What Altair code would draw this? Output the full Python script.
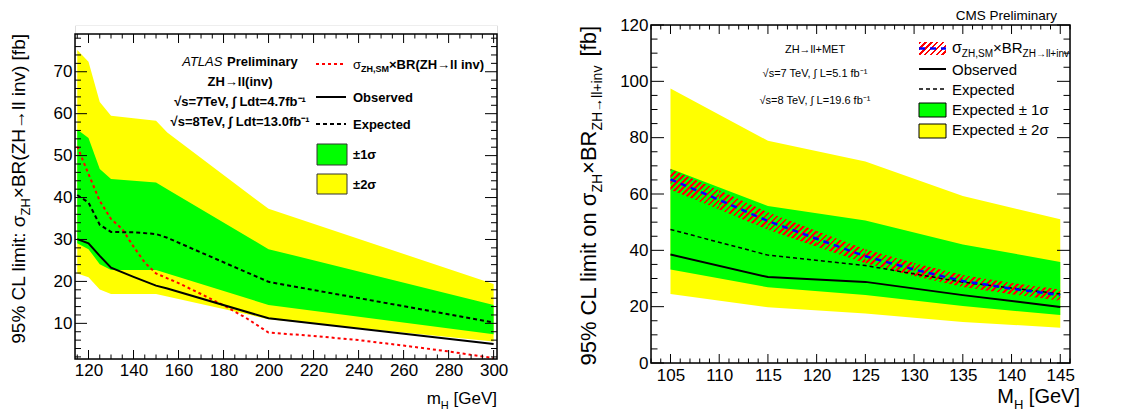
import altair as alt
import pandas as pd

FONT = "Liberation Sans"
GREEN = "#00ff00"
YELLOW = "#ffff00"

# ---------------- Left panel (ATLAS) data ----------------
L_mass = [115, 120, 125, 130, 140, 150, 155, 200, 300]
L_y2hi = [75.2, 72.4, 62.8, 59.5, 58.9, 58.3, 55.5, 37.3, 19.4]
L_y1hi = [56.2, 54.2, 46.8, 44.4, 44.0, 43.6, 42.0, 27.7, 14.4]
L_exp = [40.6, 38.8, 33.5, 31.8, 31.7, 31.3, 30.4, 19.9, 10.2]
L_obs = [30.1, 29.1, 26.1, 23.3, 21.1, 19.0, 18.3, 11.2, 5.1]
L_y1lo = [29.1, 27.7, 24.1, 22.7, 22.7, 22.7, 21.9, 14.4, 7.4]
L_y2lo = [21.9, 21.0, 18.1, 17.0, 17.0, 17.0, 16.4, 11.0, 5.7]
L_sm_mass = [115, 120, 125, 130, 135, 140, 145, 150, 160, 170, 180, 190, 200, 220, 240, 260, 280, 300]
L_sm = [52.2, 45.6, 39.2, 34.9, 32.5, 28.3, 24.5, 21.9, 19.6, 17.0, 14.3, 11.3, 7.8, 7.0, 6.0, 4.7, 3.3, 1.7]
L_xmajor = [120, 140, 160, 180, 200, 220, 240, 260, 280, 300]
L_xminor = [115, 125, 130, 135, 145, 150, 155, 165, 170, 175, 185, 190, 195, 205, 210, 215, 225, 230, 235,
            245, 250, 255, 265, 270, 275, 285, 290, 295]
L_ymajor = [10, 20, 30, 40, 50, 60, 70]
L_yminor = [2, 4, 6, 8, 12, 14, 16, 18, 22, 24, 26, 28, 32, 34, 36, 38, 42, 44, 46, 48, 52, 54, 56, 58,
            62, 64, 66, 68, 72, 74, 76, 78]

# ---------------- Right panel (CMS) data ----------------
R_mass = [105, 115, 125, 135, 145]
R_y2hi = [97.5, 78.9, 71.5, 59.3, 51.0]
R_y1hi = [69.0, 55.7, 50.6, 42.1, 35.9]
R_exp = [47.4, 38.3, 34.6, 28.7, 24.5]
R_obs = [38.5, 30.5, 28.8, 24.1, 19.9]
R_y1lo = [33.2, 26.9, 24.1, 20.2, 17.0]
R_y2lo = [24.5, 19.8, 17.6, 14.6, 12.5]
R_sm_mass = [105, 110, 115, 120, 125, 130, 135, 140, 145]
R_sm = [65.2, 57.9, 50.4, 44.1, 37.9, 33.2, 29.1, 26.4, 24.1]
R_sm_hi = [68.9, 61.3, 53.5, 46.9, 40.4, 35.5, 31.2, 28.4, 26.1]
R_sm_lo = [61.5, 54.5, 47.3, 41.3, 35.4, 30.9, 27.0, 24.4, 22.1]
R_xmajor = [105, 110, 115, 120, 125, 130, 135, 140, 145]
R_xminor = [103, 104, 106, 107, 108, 109, 111, 112, 113, 114, 116, 117, 118, 119, 121, 122, 123, 124,
            126, 127, 128, 129, 131, 132, 133, 134, 136, 137, 138, 139, 141, 142, 143, 144, 146]
R_ymajor = [0, 20, 40, 60, 80, 100, 120]
R_yminor = [5, 10, 15, 25, 30, 35, 45, 50, 55, 65, 70, 75, 85, 90, 95, 105, 110, 115]

ONE = pd.DataFrame({"k": [0]})

# approximate Arial / Liberation Sans advance widths (per 1000 em)
REG = {' ': 278, '%': 889, 'C': 722, 'L': 556, 'l': 222, 'i': 222, 'm': 833, 't': 278, ':': 278,
       'σ': 617, 'Z': 611, 'H': 722, '×': 584, 'B': 667, 'R': 722, '(': 333, ')': 333, '→': 1000,
       'n': 556, 'v': 500, '[': 278, ']': 278, 'f': 278, 'b': 556, 'o': 556, '+': 584, 'e': 556,
       'G': 778, 'V': 667, 'M': 833, 'S': 667, ',': 278, 's': 500, 'A': 667, 'T': 611}
BOLD = dict(REG)
BOLD.update({'B': 722, 'l': 278, 'i': 278, 'n': 611, 'v': 556, 'm': 889, 'r': 389, 'e': 556,
             'P': 667, 'y': 556, 'a': 556, 'b': 611, 't': 333, 'L': 611})


def tw(s, size, bold=False):
    tab = BOLD if bold else REG
    return sum(tab.get(c, 556) for c in s) * size / 1000.0


def text(s, x, y, size, weight="normal", align="left", baseline="alphabetic", angle=0,
         style="normal", color="black"):
    kw = dict(text=s, font=FONT, fontSize=size, fontWeight=weight, fontStyle=style,
              align=align, baseline=baseline, color=color)
    if angle:
        kw["angle"] = angle
    return alt.Chart(ONE).mark_text(**kw).encode(x=alt.value(x), y=alt.value(y))


def hseq(pieces, x, y):
    out = []
    cur = x
    for s, size, weight, dy in pieces:
        out.append(text(s, cur, y + dy, size, weight))
        cur += tw(s, size, weight == "bold")
    return out


def hseq_right(pieces, xr, y):
    out = []
    cur = xr
    for s, size, weight, dy in reversed(pieces):
        out.append(text(s, cur, y + dy, size, weight, align="right"))
        cur -= tw(s, size, weight == "bold")
    return out


def vseq(pieces, x, ytop):
    """rotated (reading upward) run ending at ytop; pieces: (text, size, dx, gap_after)"""
    out = []
    cur = ytop
    for s, size, dx, gap in reversed(pieces):
        cur += gap
        out.append(text(s, x + dx, cur, size, align="right", angle=270))
        cur += tw(s, size)
    return out


def hatch(w, h, period=4.4, frac=0.42):
    """diagonal red hatching as a hard-stop linear gradient over the mark's bounding box"""
    a, b = 1.0, h / w
    s = (a + b) / (a * a + b * b) * 1.02
    x2, y2 = s * a, s * b
    g = ((x2 / w) ** 2 + (y2 / h) ** 2) ** 0.5 / (x2 * x2 + y2 * y2)
    n = max(1, round((1.0 / g) / period))
    red, clear = "#ff0000", "rgba(255,0,0,0)"
    stops = []
    for k in range(n):
        o0, o1, o2 = k / n, (k + frac) / n, (k + 1) / n
        stops += [{"offset": o0, "color": red}, {"offset": o1, "color": red},
                  {"offset": o1, "color": clear}, {"offset": o2, "color": clear}]
    return {"gradient": "linear", "x1": 0, "y1": 0, "x2": x2, "y2": y2, "stops": stops}


def tick_layers(xs, ys, xax, yax, W, top, bottom, xmaj, xmin, ymaj, ymin, lx, ly):
    out = []
    for vals, ln in ((xmaj, lx[0]), (xmin, lx[1])):
        d = pd.DataFrame({"t": vals})
        X = alt.X("t:Q", scale=xs, axis=xax)
        out.append(alt.Chart(d).mark_rule(color="black", strokeWidth=1).encode(
            x=X, y=alt.value(bottom), y2=alt.value(bottom - ln)))
        out.append(alt.Chart(d).mark_rule(color="black", strokeWidth=1).encode(
            x=X, y=alt.value(top), y2=alt.value(top + ln)))
    for vals, ln in ((ymaj, ly[0]), (ymin, ly[1])):
        d = pd.DataFrame({"t": vals})
        Y = alt.Y("t:Q", scale=ys, axis=yax)
        out.append(alt.Chart(d).mark_rule(color="black", strokeWidth=1).encode(
            y=Y, x=alt.value(0), x2=alt.value(ln)))
        out.append(alt.Chart(d).mark_rule(color="black", strokeWidth=1).encode(
            y=Y, x=alt.value(W), x2=alt.value(W - ln)))
    return out


def frame(W, top, bottom):
    return alt.Chart(ONE).mark_rect(fillOpacity=0, stroke="black", strokeWidth=1.5).encode(
        x=alt.value(0), x2=alt.value(W), y=alt.value(top), y2=alt.value(bottom))


def spacer(x1, x2, y):
    return alt.Chart(ONE).mark_rule(color="white", strokeWidth=1).encode(
        x=alt.value(x1), x2=alt.value(x2), y=alt.value(y))


def axis(vals, pad):
    return alt.Axis(values=vals, ticks=False, tickSize=0, domain=False, grid=False, title=None,
                    labelFont=FONT, labelFontSize=17, labelColor="black", labelPadding=pad,
                    labelFlush=False, labelOverlap=False, format="d")


# ================= LEFT PANEL =================
WL, HL, OY = 422, 334, 9          # view is 334 tall; the framed plot starts 9 px lower
xsL = alt.Scale(domain=[114, 301.5], nice=False, zero=False)
ysL = alt.Scale(domain=[1.5, 79], nice=False, zero=False, range=[HL, OY])
axLx = axis(L_xmajor, 3)
axLy = axis(L_ymajor, 3)
dfL = pd.DataFrame({"m": L_mass, "y2hi": L_y2hi, "y1hi": L_y1hi, "exp": L_exp, "obs": L_obs,
                    "y1lo": L_y1lo, "y2lo": L_y2lo})
dfLsm = pd.DataFrame({"m": L_sm_mass, "sm": L_sm})
XL = alt.X("m:Q", scale=xsL, axis=axLx)

left_layers = [
    alt.Chart(dfL).mark_area(color=YELLOW).encode(XL, alt.Y("y2lo:Q", scale=ysL, axis=axLy), alt.Y2("y2hi:Q")),
    alt.Chart(dfL).mark_area(color=GREEN).encode(XL, alt.Y("y1lo:Q", scale=ysL, axis=axLy), alt.Y2("y1hi:Q")),
    alt.Chart(dfLsm).mark_line(color="#ff0000", strokeWidth=2, strokeDash=[3, 3]).encode(
        XL, alt.Y("sm:Q", scale=ysL, axis=axLy)),
    alt.Chart(dfL).mark_line(color="black", strokeWidth=2, strokeDash=[4, 3]).encode(
        XL, alt.Y("exp:Q", scale=ysL, axis=axLy)),
    alt.Chart(dfL).mark_line(color="black", strokeWidth=2).encode(XL, alt.Y("obs:Q", scale=ysL, axis=axLy)),
]
left_layers += tick_layers(xsL, ysL, axLx, axLy, WL, OY, HL, L_xmajor, L_xminor, L_ymajor, L_yminor,
                           (9, 4.5), (12, 6))
left_layers.append(frame(WL, OY, HL))
# inner labels
cx = 165
atl_w = tw("ATLAS", 13) + tw(" ", 13, True) + tw("Preliminary", 13, True)
x0 = cx - atl_w / 2
left_layers += [
    text("ATLAS", x0, OY + 31.5, 13, style="italic"),
    text("Preliminary", x0 + tw("ATLAS", 13) + tw(" ", 13, True), OY + 31.5, 13, weight="bold"),
    text("ZH→ll(inv)", cx, OY + 51.5, 13, weight="bold", align="center"),
    text("√s=7TeV, ∫ Ldt=4.7fb⁻¹", cx, OY + 71.5, 13, weight="bold", align="center"),
    text("√s=8TeV, ∫ Ldt=13.0fb⁻¹", cx, OY + 91.5, 13, weight="bold", align="center"),
]
# legend
lx0, lx1, ltx = 241, 271, 278
left_layers += [
    alt.Chart(ONE).mark_rule(color="#ff0000", strokeWidth=2, strokeDash=[3, 3]).encode(
        x=alt.value(lx0), x2=alt.value(lx1), y=alt.value(OY + 30)),
    alt.Chart(ONE).mark_rule(color="black", strokeWidth=2).encode(
        x=alt.value(lx0), x2=alt.value(lx1), y=alt.value(OY + 63)),
    alt.Chart(ONE).mark_rule(color="black", strokeWidth=2, strokeDash=[4, 3]).encode(
        x=alt.value(lx0), x2=alt.value(lx1), y=alt.value(OY + 90)),
    alt.Chart(ONE).mark_rect(fill=GREEN, stroke="#333333", strokeWidth=1).encode(
        x=alt.value(lx0 + 1), x2=alt.value(lx1 + 1), y=alt.value(OY + 110), y2=alt.value(OY + 131)),
    alt.Chart(ONE).mark_rect(fill=YELLOW, stroke="#333333", strokeWidth=1).encode(
        x=alt.value(lx0 + 1), x2=alt.value(lx1 + 1), y=alt.value(OY + 140), y2=alt.value(OY + 160)),
]
left_layers += hseq([("σ", 13, "normal", 0), ("ZH,SM", 9, "bold", 3.5), ("×BR(ZH→ll inv)", 13, "bold", 0)],
                    ltx, OY + 34.5)
left_layers += [
    text("Observed", ltx, OY + 67.5, 13, weight="bold"),
    text("Expected", ltx, OY + 94.5, 13, weight="bold"),
    text("±1σ", ltx, OY + 124.5, 13, weight="bold"),
    text("±2σ", ltx, OY + 154.5, 13, weight="bold"),
]
# axis titles
left_layers += vseq([("95% CL limit: σ", 19, 0, 0), ("ZH", 13, 5, 0), ("×BR(ZH→ll inv) [fb]", 19, 0, 0)],
                    -50.5, OY)
left_layers += hseq_right([("m", 17, "normal", 0), ("H", 11, "normal", 5), (" [GeV]", 17, "normal", 0)],
                          WL, HL + 45)
left_layers.append(spacer(-66, 440, 0))

left = alt.layer(*left_layers).properties(width=WL, height=HL)

# ================= RIGHT PANEL =================
WR, HR = 419, 338
RX0, RX1, RY1 = 103, 146, 120
xsR = alt.Scale(domain=[RX0, RX1], nice=False, zero=False)
ysR = alt.Scale(domain=[0, RY1], nice=False, zero=False)
axRx = axis(R_xmajor, 4)
axRy = axis(R_ymajor, 3)
dfR = pd.DataFrame({"m": R_mass, "y2hi": R_y2hi, "y1hi": R_y1hi, "exp": R_exp, "obs": R_obs,
                    "y1lo": R_y1lo, "y2lo": R_y2lo})
dfRsm = pd.DataFrame({"m": R_sm_mass, "sm": R_sm, "hi": R_sm_hi, "lo": R_sm_lo})
XR = alt.X("m:Q", scale=xsR, axis=axRx)

right_layers = [
    alt.Chart(dfR).mark_area(color=YELLOW).encode(XR, alt.Y("y2lo:Q", scale=ysR, axis=axRy), alt.Y2("y2hi:Q")),
    alt.Chart(dfR).mark_area(color=GREEN).encode(XR, alt.Y("y1lo:Q", scale=ysR, axis=axRy), alt.Y2("y1hi:Q")),
]
# hatched theory band, drawn piece by piece (one gradient per interval keeps the stripes crisp)
for i in range(len(R_sm_mass) - 1):
    seg = dfRsm.iloc[i:i + 2]
    w = (R_sm_mass[i + 1] - R_sm_mass[i]) / (RX1 - RX0) * WR
    h = (max(R_sm_hi[i], R_sm_hi[i + 1]) - min(R_sm_lo[i], R_sm_lo[i + 1])) / RY1 * HR
    right_layers.append(alt.Chart(seg).mark_area(fill=hatch(w, h)).encode(
        XR, alt.Y("lo:Q", scale=ysR, axis=axRy), alt.Y2("hi:Q")))
right_layers += [
    alt.Chart(dfR).mark_line(color="black", strokeWidth=1.5, strokeDash=[4, 3]).encode(
        XR, alt.Y("exp:Q", scale=ysR, axis=axRy)),
    alt.Chart(dfR).mark_line(color="black", strokeWidth=2).encode(XR, alt.Y("obs:Q", scale=ysR, axis=axRy)),
    alt.Chart(dfRsm).mark_line(color="#0000ff", strokeWidth=2.5, strokeDash=[6, 5]).encode(
        XR, alt.Y("sm:Q", scale=ysR, axis=axRy)),
]
right_layers += tick_layers(xsR, ysR, axRx, axRy, WR, 0, HR, R_xmajor, R_xminor, R_ymajor, R_yminor,
                            (9, 4.5), (13, 6.5))
right_layers.append(frame(WR, 0, HR))
cxr = 164
right_layers += [
    text("ZH→ll+MET", cxr, 28, 11, align="center"),
    text("√s=7 TeV, ∫ L=5.1 fb⁻¹", cxr, 52, 11, align="center"),
    text("√s=8 TeV, ∫ L=19.6 fb⁻¹", cxr, 79, 11, align="center"),
    text("CMS Preliminary", 406, -5, 13.5, align="right"),
]
rx0, rx1, rtx = 268, 295, 301
right_layers += [
    alt.Chart(ONE).mark_rect(fill=hatch(27, 13)).encode(
        x=alt.value(rx0), x2=alt.value(rx1), y=alt.value(17), y2=alt.value(30)),
    alt.Chart(ONE).mark_rule(color="#0000ff", strokeWidth=2.5, strokeDash=[6, 5]).encode(
        x=alt.value(rx0), x2=alt.value(rx1), y=alt.value(23.5)),
    alt.Chart(ONE).mark_rule(color="black", strokeWidth=2).encode(
        x=alt.value(rx0), x2=alt.value(rx1), y=alt.value(44)),
    alt.Chart(ONE).mark_rule(color="black", strokeWidth=1.5, strokeDash=[4, 3]).encode(
        x=alt.value(rx0), x2=alt.value(rx1), y=alt.value(64)),
    alt.Chart(ONE).mark_rect(fill=GREEN, stroke="black", strokeWidth=1).encode(
        x=alt.value(rx0), x2=alt.value(rx1), y=alt.value(78), y2=alt.value(92)),
    alt.Chart(ONE).mark_rect(fill=YELLOW, stroke="black", strokeWidth=1).encode(
        x=alt.value(rx0), x2=alt.value(rx1), y=alt.value(99), y2=alt.value(113)),
]
right_layers += hseq([("σ", 16, "normal", 0), ("ZH,SM", 10, "normal", 4), ("×BR", 15, "normal", 0),
                      ("ZH→ll+inv", 10, "normal", 4)], rtx, 28)
right_layers += [
    text("Observed", rtx, 49.5, 15),
    text("Expected", rtx, 69.5, 15),
    text("Expected ± 1σ", rtx, 89.5, 15),
    text("Expected ± 2σ", rtx, 109.5, 15),
]
right_layers += vseq([("95% CL limit on σ", 22, 0, 0), ("ZH", 14, 6, 0), ("×BR", 22, 0, 0),
                      ("ZH→ll+inv", 14, 6, 9), ("[fb]", 22, 0, 0)], -55.5, 1)
right_layers += hseq_right([("M", 20, "normal", 0), ("H", 13, "normal", 6), (" [GeV]", 20, "normal", 0)],
                           429, HR + 40)
right_layers.append(spacer(-75, -70, -16))

right = alt.layer(*right_layers).properties(width=WR, height=HR)

chart = alt.hconcat(left, right, spacing=59).properties(padding=0).configure_view(
    strokeWidth=0).configure(font=FONT)

chart.save("out.html", embed_options={"renderer": "svg", "actions": False})
